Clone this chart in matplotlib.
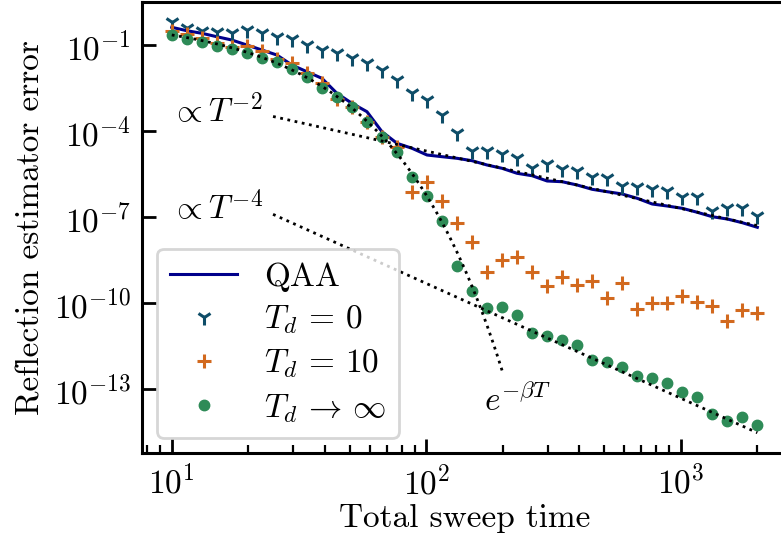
import numpy as np
import matplotlib
matplotlib.use("Agg")
import matplotlib.pyplot as plt
from matplotlib.ticker import FixedLocator, NullLocator, LogFormatterMathtext

plt.rcParams['font.family'] = 'serif'
plt.rcParams['font.serif'] = ['cmr10', 'DejaVu Serif']
plt.rcParams['mathtext.fontset'] = 'cm'
plt.rcParams['axes.formatter.use_mathtext'] = True
plt.rcParams['axes.unicode_minus'] = False

# ---- data ----
T = [10.0, 11.455, 13.122, 15.031, 17.218, 19.725, 22.595, 25.882, 29.648, 33.962,
     38.904, 44.566, 51.050, 58.478, 66.987, 76.735, 87.901, 100.69, 115.34, 132.12,
     151.35, 173.37, 198.60, 227.50, 260.61, 298.53, 341.98, 391.74, 448.74, 514.04,
     588.85, 674.52, 772.70, 885.13, 1013.9, 1161.5, 1330.5, 1524.1, 1745.9, 2000.0]

log_qaa = [-0.383, -0.502, -0.592, -0.711, -0.826, -1.000, -1.174, -1.349, -1.697, -1.931,
           -2.161, -2.684, -3.032, -3.325, -4.022, -4.426, -4.600, -4.834, -4.893, -4.949,
           -5.033, -5.183, -5.298, -5.472, -5.556, -5.740, -5.765, -5.880, -6.030, -6.113,
           -6.193, -6.343, -6.542, -6.612, -6.692, -6.831, -6.985, -7.065, -7.194, -7.354]

log_td0 = [-0.188, -0.418, -0.502, -0.536, -0.571, -0.477, -0.571, -0.711, -0.801, -1.000,
           -1.174, -1.289, -1.464, -1.617, -1.871, -2.220, -2.684, -2.917, -3.440, -4.078,
           -4.687, -4.687, -4.799, -4.952, -5.300, -5.148, -5.322, -5.392, -5.590, -5.646,
           -5.915, -5.960, -6.030, -6.079, -6.308, -6.308, -6.775, -6.692, -6.692, -6.960]

log_td10 = [-0.512, -0.627, -0.766, -0.920, -1.059, -1.035, -1.198, -1.500, -1.638, -1.965,
            -2.314, -2.882, -3.172, -3.673, -4.196, -4.545, -6.135, -5.765, -6.437, -7.193,
            -7.856, -8.902, -8.494, -8.400, -8.902, -9.400, -9.076, -9.365, -9.215, -9.829,
            -9.285, -10.212, -10.003, -10.003, -9.749, -9.947, -10.097, -10.620, -10.237, -10.352]

log_tdinf = [-0.651, -0.791, -0.906, -1.024, -1.150, -1.268, -1.443, -1.603, -1.837, -2.126,
             -2.488, -2.823, -3.150, -3.673, -4.196, -4.740, -5.590, -6.252, -7.124, -8.692,
             -9.574, -10.177, -10.143, -10.411, -11.049, -11.132, -11.282, -11.457, -11.979, -12.039,
             -12.234, -12.537, -12.596, -12.791, -13.084, -13.279, -13.862, -14.095, -13.956, -14.245]

# guide lines (fits)
fit_T_range = [25.0, 2000.0]
log_c2 = -0.695        # y = 10**log_c2 * T^-2
log_c4 = -1.310        # y = 10**log_c4 * T^-4
exp_T_range = [10.0, 200.0]
exp_log_a = -0.03      # log10 y = exp_log_a - exp_slope * T
exp_slope = 0.062

labels = ["QAA", r"$T_d\,=\,0$", r"$T_d\,=\,10$", r"$T_d\,\to\,\infty$"]
ytick_exps = [-1, -4, -7, -10, -13]

# ---- plot ----
fig = plt.figure(figsize=(7.81, 5.42), dpi=100)
ax = fig.add_axes([142/781, (542-453)/542, (786.6-142)/781, (453-1.7)/542])

T = np.array(T)
ax.plot(T, 10**np.array(log_qaa), color='#00008b', lw=2.2, label=labels[0], zorder=2)
ax.plot(T, 10**np.array(log_td0), ls='none', marker='1', ms=11, mew=2.2,
        color='#0e4d68', label=labels[1], zorder=3)
ax.plot(T, 10**np.array(log_td10), ls='none', marker='+', ms=10, mew=2.2,
        color='#d2691e', label=labels[2], zorder=3)
ax.plot(T, 10**np.array(log_tdinf), ls='none', marker='o', ms=7.5,
        color='#2e8b57', label=labels[3], zorder=3)

Tf = np.geomspace(fit_T_range[0], fit_T_range[1], 200)
ax.plot(Tf, 10**log_c2 * Tf**-2.0, ls=':', color='k', lw=2, zorder=4)
ax.plot(Tf, 10**log_c4 * Tf**-4.0, ls=':', color='k', lw=2, zorder=4)
Te = np.linspace(exp_T_range[0], exp_T_range[1], 300)
ax.plot(Te, 10**(exp_log_a - exp_slope * Te), ls=':', color='k', lw=2, zorder=4)

ax.set_xscale('log')
ax.set_yscale('log')
ax.set_xlim(10**0.883, 10**3.416)
ax.set_ylim(10**-15.22, 10**0.509)

ax.yaxis.set_major_locator(FixedLocator([10.0**e for e in ytick_exps]))
ax.yaxis.set_minor_locator(NullLocator())
ax.yaxis.set_major_formatter(LogFormatterMathtext())

fs = 24
ax.tick_params(which='major', direction='in', length=10, width=2, labelsize=fs, pad=8)
ax.tick_params(which='minor', direction='in', length=5.5, width=1.6)
for s in ax.spines.values():
    s.set_linewidth(2.2)

ax.set_xlabel("Total sweep time", fontsize=fs, labelpad=3)
ax.set_ylabel("Reflection estimator error", fontsize=fs, labelpad=6)

ax.text(15.07, 5.4e-4, r"$\propto T^{-2}$", fontsize=fs, ha='center', va='center')
ax.text(15.07, 2.26e-7, r"$\propto T^{-4}$", fontsize=fs, ha='center', va='center')
ax.text(229.6, 4.2e-14, r"$e^{-\beta T}$", fontsize=fs, ha='center', va='center')

leg = ax.legend(loc='lower left', fontsize=fs, framealpha=0.8, fancybox=True,
                borderaxespad=0.45, labelspacing=0.35)
leg.get_frame().set_linewidth(2)

fig.savefig("out.png", dpi=100)
